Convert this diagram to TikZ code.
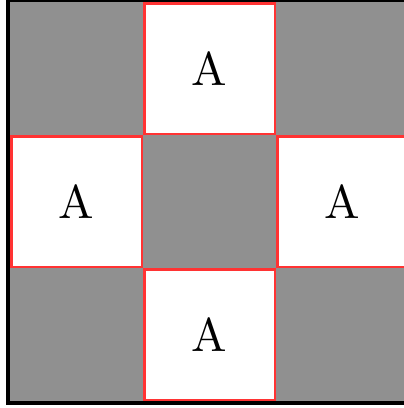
\documentclass[tikz,border=0pt]{standalone}
\begin{document}
\begin{tikzpicture}[x=1bp,y=-1bp,
  wcell/.style={fill=white,draw=cellred,line width=5bp},
  gcell/.style={fill=cellgray},
  lbl/.style={font=\normalsize,scale=4.75}]
\definecolor{cellgray}{RGB}{144,144,144}
\definecolor{cellred}{RGB}{255,51,51}
\useasboundingbox (0,0) rectangle (404,408);
\clip (0,0) rectangle (404,408);
% white cells with red borders
\draw[wcell] (143,2) rectangle (276,135);
\draw[wcell] (10,135) rectangle (143,268);
\draw[wcell] (276,135) rectangle (409,268);
\draw[wcell] (143,268) rectangle (276,401);
% gray cells (drawn over the red borders)
\fill[gcell] (10,2) rectangle (143,135);
\fill[gcell] (276,2) rectangle (409,135);
\fill[gcell] (143,135) rectangle (276,268);
\fill[gcell] (10,268) rectangle (143,401);
\fill[gcell] (276,268) rectangle (409,401);
% outer black frame
\draw[line width=4bp] (8,0) rectangle (411,403);
% labels
\node[lbl] (top) at (209.5,68.5) {A};
\node[lbl] (left) at (76.5,201.5) {A};
\node[lbl] (right) at (342.5,201.5) {A};
\node[lbl] (bottom) at (209.5,334.5) {A};
\end{tikzpicture}
\end{document}
